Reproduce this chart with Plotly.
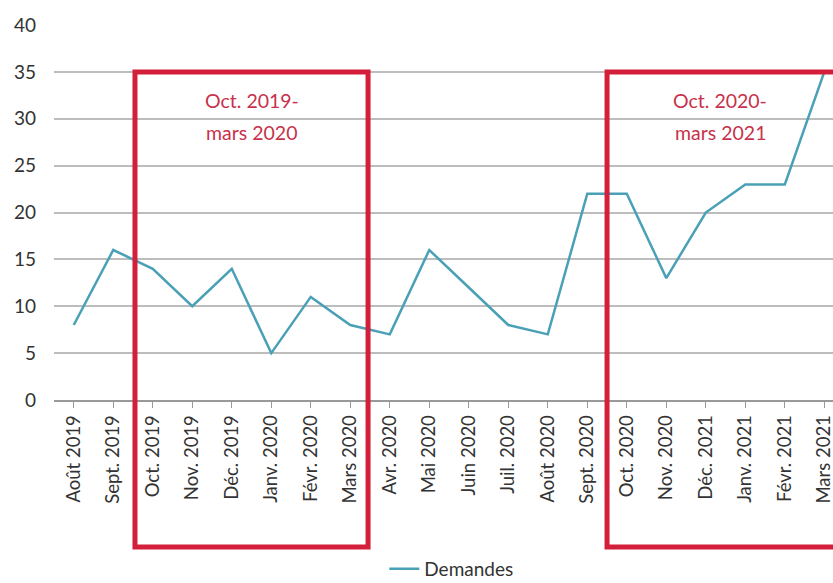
import plotly.graph_objects as go

months = ["Août 2019", "Sept. 2019", "Oct. 2019", "Nov. 2019", "Déc. 2019", "Janv. 2020",
          "Févr. 2020", "Mars 2020", "Avr. 2020", "Mai 2020", "Juin 2020", "Juil. 2020",
          "Août 2020", "Sept. 2020", "Oct. 2020", "Nov. 2020", "Déc. 2021", "Janv. 2021",
          "Févr. 2021", "Mars 2021"]
demandes = [8, 16, 14, 10, 14, 5, 11, 8, 7, 16, 12, 8, 7, 22, 22, 13, 20, 23, 23, 35]
y_ticks = [0, 5, 10, 15, 20, 25, 30, 35, 40]

# highlighted periods (category index bounds) and their two label lines
periods = [(1.55, 7.45, 4.5, "Oct. 2019-", "mars 2020"),
           (13.5, 19.9, 16.36, "Oct. 2020-", "mars 2021")]

FONT = "Lato, Open Sans, sans-serif"
RED = "#d41f3a"
TEAL = "#4aa0b6"
X_MAX = 19.22

fig = go.Figure()
fig.add_trace(go.Scatter(x=list(range(len(months))), y=demandes, mode="lines",
                         name="Demandes", line=dict(color=TEAL, width=2.5)))

W, H = 833, 583
ml, mt, mb = 54, 25, 183
plot_h = H - mt - mb
box_bottom = (400 - 547) / plot_h

for x0, x1, xc, l1, l2 in periods:
    fig.add_shape(type="rect", xref="x", yref="paper", x0=x0, x1=x1,
                  y0=box_bottom, y1=35 / 40, line=dict(color=RED, width=5),
                  fillcolor="rgba(0,0,0,0)", layer="above")
    for yy, txt in ((31.9, l1), (28.5, l2)):
        fig.add_annotation(x=xc, y=yy, xref="x", yref="y", text=txt, showarrow=False,
                           font=dict(family=FONT, size=19.5, color="#c8314b"))

fig.update_layout(
    width=W, height=H,
    margin=dict(l=ml, r=0, t=mt, b=mb, autoexpand=False),
    plot_bgcolor="white", paper_bgcolor="white",
    font=dict(family=FONT, size=17, color="#333"),
    showlegend=True,
    legend=dict(orientation="h", x=0.51, xanchor="center", y=(400 - 569) / plot_h,
                yanchor="middle", font=dict(size=19, color="#333")),
    xaxis=dict(range=[-0.5, X_MAX], tickmode="array", tickvals=list(range(len(months))),
               ticktext=months, tickangle=-90, showgrid=False, showline=True,
               linecolor="#999", linewidth=1.5, ticks="outside", ticklen=6,
               tickcolor="#999", tickfont=dict(size=18.5, color="#333"), zeroline=False,
               automargin=False, ticklabeloverflow="allow"),
    yaxis=dict(range=[0, 40], tickvals=y_ticks, showgrid=True, gridcolor="#bdbdbd",
               gridwidth=1.5, zeroline=False, showline=False, automargin=False,
               tickfont=dict(size=19, color="#333"), ticklabelstandoff=17),
)

fig.write_html("out.html", config={"displayModeBar": False},
               post_script="document.body.style.margin='0px';")
